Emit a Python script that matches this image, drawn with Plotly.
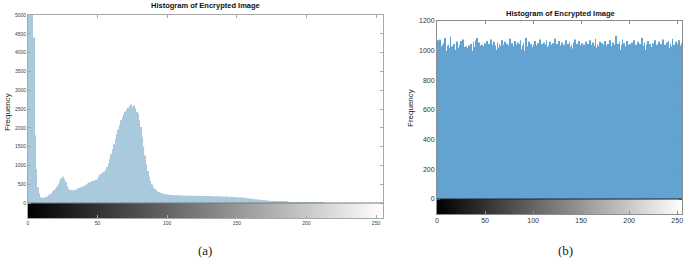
import plotly.graph_objects as go

# ---------------- data ----------------
bins = list(range(256))            # grey levels 0..255
gray_levels = list(range(256))     # colour strip under each histogram

hist_a = [
    3500, 5600, 6200, 5800, 4400, 1800, 900, 420, 250, 160,
    140, 130, 145, 160, 175, 205, 230, 255, 300, 345,
    385, 440, 505, 575, 650, 695, 640, 560, 455, 380,
    350, 330, 335, 345, 340, 365, 380, 400, 415, 435,
    445, 455, 485, 520, 545, 555, 580, 590, 600, 615,
    635, 700, 760, 785, 815, 840, 885, 960, 1060, 1180,
    1300, 1430, 1560, 1700, 1830, 1960, 2080, 2200, 2290, 2370,
    2430, 2480, 2530, 2580, 2620, 2560, 2590, 2520, 2430, 2380,
    2200, 2020, 1760, 1500, 1260, 1040, 850, 700, 580, 490,
    420, 370, 340, 310, 290, 270, 255, 245, 240, 232,
    225, 220, 216, 212, 210, 206, 205, 203, 200, 198,
    200, 196, 198, 194, 195, 192, 196, 190, 194, 188,
    192, 186, 190, 185, 188, 184, 186, 182, 185, 180,
    183, 178, 181, 176, 179, 175, 177, 172, 175, 170,
    172, 168, 170, 165, 168, 162, 165, 158, 160, 155,
    155, 150, 148, 145, 140, 138, 132, 128, 122, 118,
    112, 108, 104, 100, 96, 92, 88, 84, 80, 76,
    72, 68, 64, 60, 56, 54, 50, 48, 45, 42,
    40, 38, 36, 34, 32, 30, 28, 26, 24, 22,
    20, 18, 16, 15, 14, 12, 11, 10, 9, 8,
    7, 6, 5, 5, 4, 4, 3, 3, 2, 2,
    1, 1, 1, 0, 0, 0, 0, 0, 0, 0,
    0, 0, 0, 0, 0, 0, 0, 0, 0, 0,
    0, 0, 0, 0, 0, 0, 0, 0, 0, 0,
    0, 0, 0, 0, 0, 0, 0, 0, 0, 0,
    0, 0, 0, 0, 0, 0,
]

hist_b = [
    1010, 1070, 1060, 1075, 1030, 995, 1040, 1050, 1085, 1000,
    990, 1035, 1040, 1020, 1095, 1000, 1030, 1015, 1045, 985,
    1005, 1060, 1020, 1000, 1040, 1065, 1010, 1075, 1005, 1025,
    1030, 1010, 1020, 1035, 1005, 1045, 1015, 1000, 1060, 1025,
    1070, 1040, 1085, 1020, 1055, 1035, 1010, 1040, 1000, 1030,
    1050, 1025, 1065, 1010, 1045, 1030, 1075, 1015, 1040, 1060,
    1025, 1035, 1005, 1055, 1020, 1045, 1030, 1010, 1070, 1040,
    1000, 1060, 1025, 1045, 1010, 1035, 1080, 1020, 1050, 1030,
    1015, 1065, 1040, 1005, 1055, 1025, 1045, 1070, 1010, 1035,
    1050, 1000, 1040, 1085, 1020, 1030, 1060, 1005, 1045, 1025,
    995, 1040, 1065, 1015, 1035, 1050, 1010, 1075, 1030, 1045,
    1020, 1055, 1005, 1040, 1070, 1025, 1035, 1010, 1060, 1040,
    1000, 1050, 1030, 1080, 1015, 1045, 1025, 1065, 1005, 1035,
    1055, 1020, 1040, 1010, 1070, 1030, 1045, 995, 1060, 1025,
    1040, 1015, 1055, 1035, 1075, 1010, 1045, 1025, 1065, 1000,
    1035, 1050, 1020, 1040, 1005, 1060, 1030, 1045, 1015, 1070,
    1025, 1040, 1055, 1010, 1035, 1080, 1020, 1045, 1000, 1030,
    1060, 1015, 1050, 1040, 1025, 1065, 1005, 1035, 1045, 1020,
    1070, 1030, 1010, 1055, 1040, 1025, 1100, 1015, 1045, 1035,
    1060, 1005, 1040, 1075, 1020, 1050, 1030, 1010, 1065, 1040,
    1025, 1045, 1000, 1055, 1035, 1070, 1015, 1040, 1030, 1060,
    1010, 1045, 1025, 1085, 1020, 1035, 1055, 1005, 1040, 1030,
    1065, 1015, 1045, 1025, 980, 1050, 1035, 1070, 1010, 1040,
    1020, 1060, 1030, 1045, 1005, 1075, 1025, 1040, 1015, 1055,
    1035, 1065, 1020, 1045, 1030, 1080, 1010, 1040, 1025, 1060,
    1045, 1015, 1070, 1035, 1020, 1050,
]

xticks = [0, 50, 100, 150, 200, 250]
yticks_a = list(range(0, 5001, 500))
yticks_b = [0, 200, 400, 600, 800, 1000, 1200]

W, H = 685, 264

def fx(px):
    return px / W

def fy(py):
    return (H - py) / H

fig = go.Figure()

# colour strips
fig.add_trace(go.Heatmap(z=[gray_levels], x=bins, y=[-400, 0],
                         colorscale=[[0, "black"], [1, "white"]], zmin=0, zmax=255,
                         showscale=False, xaxis="x", yaxis="y", hoverinfo="skip"))
fig.add_trace(go.Heatmap(z=[gray_levels], x=bins, y=[-102, 0],
                         colorscale=[[0, "black"], [1, "white"]], zmin=0, zmax=255,
                         showscale=False, xaxis="x2", yaxis="y2", hoverinfo="skip"))

# histograms
fig.add_trace(go.Bar(x=bins, y=hist_a, marker=dict(color="#a9cadd", line=dict(width=0)),
                     xaxis="x", yaxis="y", showlegend=False))
fig.add_trace(go.Bar(x=bins, y=hist_b, marker=dict(color="#62a3d1", line=dict(width=0)),
                     xaxis="x2", yaxis="y2", showlegend=False))

axis_common = dict(ticks="inside", mirror="ticks", showline=True, showgrid=False,
                   zeroline=False, automargin=False)

def ann(text, px, py, size, color="#222222", family=None, angle=0):
    f = dict(size=size, color=color)
    if family:
        f["family"] = family
    return dict(text=text, x=fx(px), y=fy(py), xref="paper", yref="paper",
                xanchor="center", yanchor="middle", showarrow=False,
                textangle=angle, font=f)

fig.update_layout(
    width=W, height=H, margin=dict(l=0, r=0, t=0, b=0, pad=0, autoexpand=False),
    paper_bgcolor="white", plot_bgcolor="white", bargap=0.18, showlegend=False,
    font=dict(family="Liberation Sans, Arial, sans-serif", color="#262626"),
    xaxis=dict(domain=[fx(28), fx(383)], range=[0, 255], anchor="y",
               tickvals=xticks, ticklen=3, linecolor="#a8a8a8", tickcolor="#a8a8a8",
               tickfont=dict(size=5, color="#404040"), **axis_common),
    yaxis=dict(domain=[fy(218), fy(15)], range=[-399, 5000], anchor="x",
               tickvals=yticks_a, ticklen=3, linecolor="#a8a8a8", tickcolor="#a8a8a8",
               tickfont=dict(size=5, color="#404040"), **axis_common),
    xaxis2=dict(domain=[fx(437), fx(682)], range=[0, 255], anchor="y2",
                tickvals=xticks, ticklen=3, linecolor="#8c8c8c", tickcolor="#8c8c8c",
                tickfont=dict(size=7, color="#333333"), **axis_common),
    yaxis2=dict(domain=[fy(214), fy(21)], range=[-101, 1200], anchor="x2",
                tickvals=yticks_b, ticklen=3, linecolor="#8c8c8c", tickcolor="#8c8c8c",
                tickfont=dict(size=7, color="#333333"), **axis_common),
    shapes=[
        dict(type="line", xref="x", yref="y", x0=0, x1=255, y0=0, y1=0,
             line=dict(color="#7a7a7a", width=1), layer="above"),
        dict(type="line", xref="x2", yref="y2", x0=0, x1=255, y0=0, y1=0,
             line=dict(color="#222222", width=1), layer="above"),
    ],
    annotations=[
        ann("<b>Histogram of Encrypted Image</b>", 205, 6, 7.5, "#111111"),
        ann("<b>Histogram of Encrypted Image</b>", 560, 14, 7.5, "#111111"),
        ann("Frequency", 8, 112, 8, angle=-90),
        ann("Frequency", 411, 108, 8, angle=-90),
        ann("(a)", 205, 250, 13, family="Liberation Serif, serif"),
        ann("(b)", 565, 250, 13, family="Liberation Serif, serif"),
    ],
)

fig.write_html("out.html", config={"displayModeBar": False},
               post_script="document.body.style.margin='0';")
